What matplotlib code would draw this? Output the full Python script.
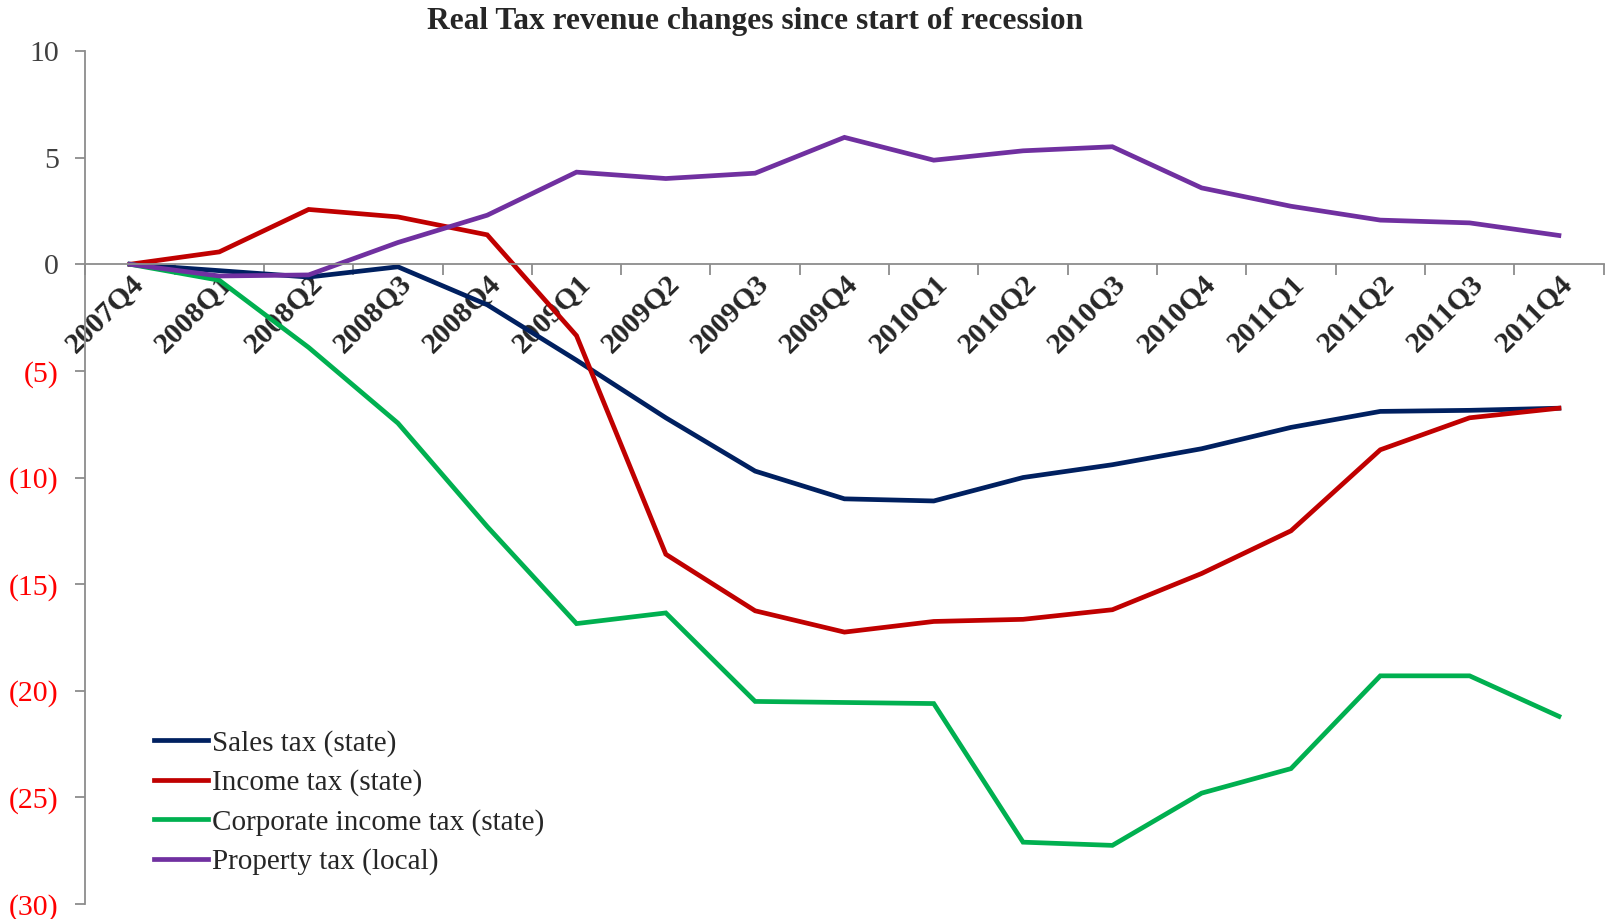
import matplotlib
matplotlib.use("Agg")
import matplotlib.pyplot as plt
from matplotlib.ticker import FixedLocator, FuncFormatter

# quarters since start of recession
quarters = ["2007Q4", "2008Q1", "2008Q2", "2008Q3", "2008Q4",
            "2009Q1", "2009Q2", "2009Q3", "2009Q4",
            "2010Q1", "2010Q2", "2010Q3", "2010Q4",
            "2011Q1", "2011Q2", "2011Q3", "2011Q4"]

sales_tax = [0, -0.3, -0.6, -0.12, -1.9, -4.5, -7.2, -9.7, -11.0,
             -11.1, -10.0, -9.4, -8.65, -7.65, -6.9, -6.85, -6.75]
income_tax = [0, 0.58, 2.57, 2.22, 1.38, -3.35, -13.6, -16.25, -17.25,
              -16.75, -16.65, -16.2, -14.5, -12.5, -8.7, -7.2, -6.75]
corporate_tax = [0, -0.75, -3.9, -7.45, -12.3, -16.85, -16.35, -20.5, -20.55,
                 -20.6, -27.1, -27.25, -24.8, -23.65, -19.3, -19.3, -21.2]
property_tax = [0, -0.55, -0.5, 1.02, 2.3, 4.32, 4.02, 4.27, 5.95,
                4.88, 5.32, 5.51, 3.58, 2.72, 2.07, 1.94, 1.35]

series_names = ["Sales tax (state)", "Income tax (state)",
                "Corporate income tax (state)", "Property tax (local)"]
colors = ["#002060", "#C00000", "#00B050", "#7030A0"]
yticks = [10, 5, 0, -5, -10, -15, -20, -25, -30]

plt.rcParams['font.family'] = ['Liberation Serif', 'DejaVu Serif']

fig = plt.figure(figsize=(16.1, 9.19), dpi=100)
ax = fig.add_axes([0.053, 0.0163, 0.943, 0.9282])

x = list(range(len(quarters)))
for vals, name, c in zip([sales_tax, income_tax, corporate_tax, property_tax],
                         series_names, colors):
    ax.plot(x, vals, color=c, linewidth=3.4, label=name, solid_joinstyle='miter')

ax.set_xlim(-0.5, len(quarters) - 0.5)
ax.set_ylim(-30, 10)

axis_gray = "#8C8C8C"
for s in ["top", "right"]:
    ax.spines[s].set_visible(False)
ax.spines["left"].set_color(axis_gray)
ax.spines["left"].set_linewidth(1.3)
ax.spines["bottom"].set_color(axis_gray)
ax.spines["bottom"].set_linewidth(1.3)
ax.spines["bottom"].set_position(("data", 0))

# y axis: negatives in red with parentheses
ax.yaxis.set_major_locator(FixedLocator(yticks))
ax.yaxis.set_major_formatter(FuncFormatter(
    lambda v, p: f"({abs(int(v))})" if v < 0 else f"{int(v)}"))
ax.tick_params(axis="y", length=7, width=1.3, color=axis_gray,
               labelsize=21.5, pad=12)
for lab, v in zip(ax.get_yticklabels(), yticks):
    lab.set_color("#FF0000" if v < 0 else "#404040")

# x axis: labels at centres, tick marks at category boundaries
ax.set_xticks(x)
ax.set_xticklabels(quarters, rotation=45, ha="right", va="top",
                   rotation_mode="anchor", fontweight="bold", color="#262626")
ax.set_xticks([i - 0.5 for i in range(len(quarters) + 1)], minor=True)
ax.tick_params(axis="x", which="major", length=0, labelsize=21.5, pad=4)
ax.tick_params(axis="x", which="minor", length=8, width=1.3, color=axis_gray)

fig.text(0.469, 0.977, "Real Tax revenue changes since start of recession",
         ha="center", va="center", fontsize=22.6, fontweight="bold", color="#262626")

ax.legend(loc="upper left", bbox_to_anchor=(0.0957, 0.206),
          bbox_transform=fig.transFigure, frameon=False, fontsize=21,
          handlelength=1.85, handletextpad=0.12, labelspacing=0.43,
          borderpad=0, borderaxespad=0, labelcolor="#262626")

fig.savefig("out.png", dpi=100)
